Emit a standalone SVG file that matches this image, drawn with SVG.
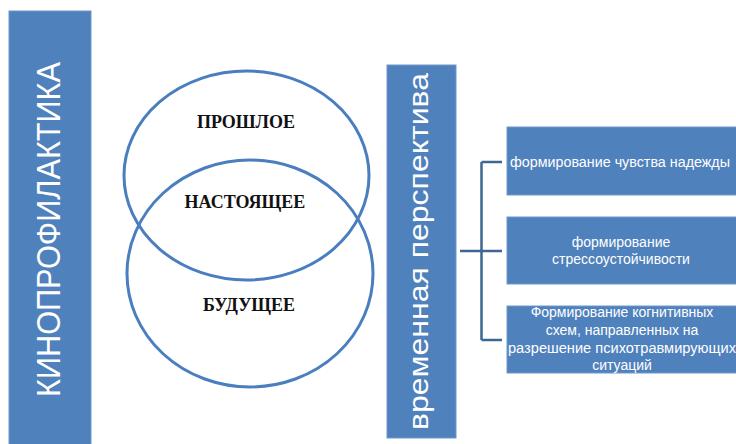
<svg xmlns="http://www.w3.org/2000/svg" width="736" height="444" viewBox="0 0 736 444">
<style>
.box{fill:#4F81BD;stroke:#6E97CA;stroke-width:1}
.wt{fill:#ffffff;font-family:"Liberation Sans",Arial,sans-serif}
.ring{fill:none;stroke:#4A7EBF;stroke-width:3}
.lbl{fill:#111111;font-family:"Liberation Serif","Times New Roman",serif;font-weight:bold;font-size:18px;text-anchor:middle}
.con{fill:none;stroke:#3D6792;stroke-width:2.5}
.st{font-size:14px;text-anchor:middle}
</style>
<rect width="736" height="444" fill="#ffffff"/>
<g id="kinoprofilaktika">
<rect class="box" x="9" y="11" width="82" height="440"/>
<text class="wt" font-size="34" text-anchor="middle" transform="translate(60,229.5) rotate(-90)" textLength="335" lengthAdjust="spacingAndGlyphs">КИНОПРОФИЛАКТИКА</text>
</g>
<g id="venn">
<ellipse class="ring" cx="246.5" cy="175.5" rx="122.5" ry="104.5"/>
<ellipse class="ring" cx="250" cy="273.5" rx="123" ry="113.5"/>
<text class="lbl" x="246" y="128">ПРОШЛОЕ</text>
<text class="lbl" x="245" y="208">НАСТОЯЩЕЕ</text>
<text class="lbl" x="249" y="311">БУДУЩЕЕ</text>
</g>
<g id="perspektiva">
<rect class="box" x="387" y="65" width="69" height="373"/>
<text class="wt" font-size="27" text-anchor="middle" transform="translate(428,251.5) rotate(-90)" textLength="357" lengthAdjust="spacingAndGlyphs">временная перспектива</text>
</g>
<g id="connectors">
<path class="con" d="M460 251H502M481.5 162V340M481.5 162H502M481.5 340H502"/>
</g>
<g id="nadezhda">
<rect class="box" x="507" y="127" width="235" height="68"/>
<text class="wt st" x="620" y="167" textLength="220" lengthAdjust="spacingAndGlyphs">формирование чувства надежды</text>
</g>
<g id="stress">
<rect class="box" x="507" y="217" width="235" height="67"/>
<text class="wt st" x="621" y="247">формирование</text>
<text class="wt st" x="621" y="264">стрессоустойчивости</text>
</g>
<g id="kognit">
<rect class="box" x="507" y="306" width="235" height="67"/>
<text class="wt st" x="622" y="317">Формирование когнитивных</text>
<text class="wt st" x="622" y="335">схем, направленных на</text>
<text class="wt st" x="622" y="353" textLength="228" lengthAdjust="spacingAndGlyphs">разрешение психотравмирующих</text>
<text class="wt st" x="622" y="370">ситуаций</text>
</g>
</svg>
